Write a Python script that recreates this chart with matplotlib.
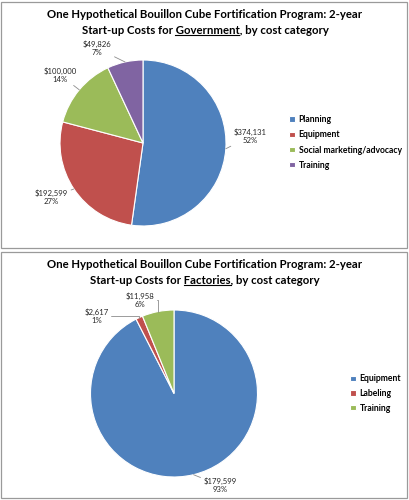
import numpy as np
import matplotlib
matplotlib.use("Agg")
import matplotlib.pyplot as plt
from matplotlib.patches import Rectangle
from matplotlib.lines import Line2D

plt.rcParams['font.family'] = ['Lato', 'DejaVu Sans']

# top chart: government start-up costs
gov_cats = ["Planning", "Equipment", "Social marketing/advocacy", "Training"]
gov_vals = [374131, 192599, 100000, 49826]
gov_pcts = [52, 27, 14, 7]

# bottom chart: factory start-up costs
fac_cats = ["Equipment", "Labeling", "Training"]
fac_vals = [179599, 2617, 11958]
fac_pcts = [93, 1, 6]

gov_colors = ["#4F81BD", "#C0504D", "#9BBB59", "#8064A2"]
fac_colors = ["#4F81BD", "#C0504D", "#9BBB59"]

W, H = 410, 500
fig = plt.figure(figsize=(W / 100, H / 100), dpi=100)


def fx(x):
    return x / W


def fy(y):
    return 1 - y / H


def panel(top, bottom):
    fig.patches.append(Rectangle((fx(1.5), fy(bottom)), fx(407) - fx(1.5), fy(top) - fy(bottom),
                                 transform=fig.transFigure, fill=False,
                                 edgecolor="#9A9A9A", linewidth=0.9))


def title(y1, who, rest):
    line1 = "One Hypothetical Bouillon Cube Fortification Program: 2-year"
    pre = "Start-up Costs for "
    fig.text(fx(205), fy(y1), line1, ha="center", va="center", fontsize=8.2, weight="bold")
    t2 = fig.text(fx(205), fy(y1 + 15), pre + who + rest, ha="center", va="center",
                  fontsize=8.2, weight="bold")
    # underline the emphasised word
    r = fig.canvas.get_renderer()
    prop = t2.get_fontproperties()
    wfull = r.get_text_width_height_descent(pre + who + rest, prop, ismath=False)[0]
    w1 = r.get_text_width_height_descent(pre + who, prop, ismath=False)[0]
    w2 = r.get_text_width_height_descent(who, prop, ismath=False)[0]
    left = 205 - wfull / 2
    yl = y1 + 19.5
    fig.lines.append(Line2D([fx(left + w1 - w2), fx(left + w1)], [fy(yl), fy(yl)],
                            transform=fig.transFigure, color="black", linewidth=0.8))


def pie(cx, cy, rad, vals, pcts, colors, cats, label_pos, elbows, leg_x, leg_y, spacing):
    ax = fig.add_axes([fx(cx - rad), fy(cy + rad), 2 * rad / W, 2 * rad / H])
    wedges, _ = ax.pie(vals, colors=colors, startangle=90, counterclock=False, radius=1,
                       wedgeprops=dict(edgecolor="white", linewidth=0.8))
    ax.set_xlim(-1, 1)
    ax.set_ylim(-1, 1)
    ax.axis("off")
    for w, v, p, pos, elb in zip(wedges, vals, pcts, label_pos, elbows):
        mid = np.deg2rad((w.theta1 + w.theta2) / 2)
        props = dict(arrowstyle="-", color="#8C8C8C", lw=0.6, shrinkA=0, shrinkB=0)
        if elb:
            props["connectionstyle"] = "angle,angleA=0,angleB=90,rad=0"
        ax.annotate(f"${v:,}\n{p}%", xy=(np.cos(mid), np.sin(mid)), xytext=pos,
                    ha="center", va="center", fontsize=5.6, linespacing=1.15,
                    color="#262626", arrowprops=props, annotation_clip=False)
    fig.legend(wedges, cats, loc="center left", bbox_to_anchor=(fx(leg_x), fy(leg_y)),
               frameon=False, prop=dict(size=6.2, weight="bold"), handlelength=0.6,
               handleheight=0.6, handletextpad=0.45, labelspacing=spacing,
               borderpad=0, borderaxespad=0)


panel(1.5, 248)
panel(251.5, 498)

title(15, "Government", ", by cost category")
title(265, "Factories", ", by cost category")

pie(143, 143, 83, gov_vals, gov_pcts, gov_colors, gov_cats,
    [(1.29, 0.08), (-1.10, -0.65), (-1.0, 0.82), (-0.55, 1.14)],
    [False, False, False, False], 289.5, 142.5, 0.72)

pie(174, 393.5, 83.5, fac_vals, fac_pcts, fac_colors, fac_cats,
    [(0.55, -1.10), (-0.93, 0.93), (-0.41, 1.12)],
    [False, True, True], 350.5, 393.5, 0.66)

fig.savefig("out.png", dpi=100, facecolor="white")
